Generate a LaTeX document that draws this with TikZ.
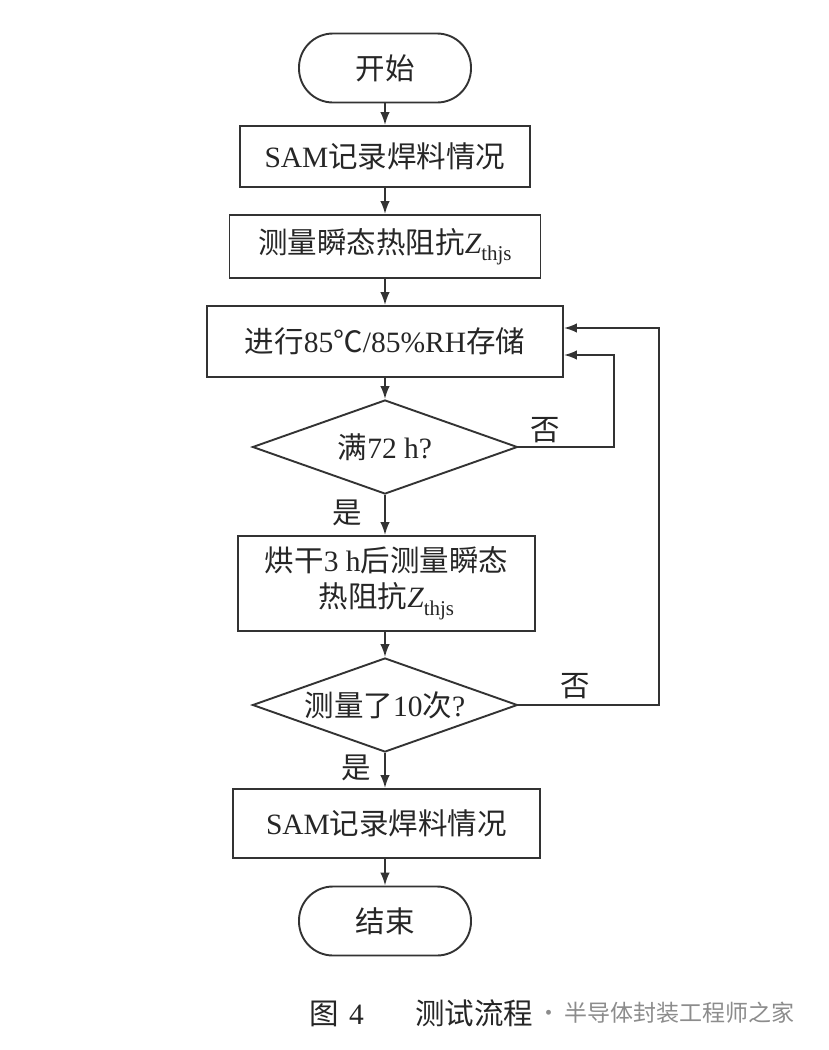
\documentclass[tikz,border=0pt]{standalone}
\usepackage{fontspec}
\setmainfont{Liberation Serif}
\newfontfamily\cjk{Noto Sans CJK SC}
\usetikzlibrary{shapes.geometric,arrows.meta}
\newcommand{\Zthjs}{{\itshape Z}\raisebox{-0.55ex}{\fontsize{21}{22}\selectfont thjs}}
\begin{document}
\begin{tikzpicture}[x=1pt,y=-1pt,
  every node/.style={font=\fontsize{29.5}{36}\selectfont, text=black!85},
  line/.style={draw=black!80, line width=1.9pt},
  arr/.style={line, -{Latex[length=13pt,width=9.5pt]}},
  term/.style={line, rectangle, rounded corners=34pt, minimum width=172pt, minimum height=69pt, inner sep=0pt},
  proc/.style={line, rectangle, inner sep=0pt, align=center},
  dec/.style={line, diamond, aspect=2.8, minimum width=265pt, minimum height=94pt, inner sep=0pt},
  lab/.style={inner sep=0pt}]
\useasboundingbox (0,0) rectangle (828,1050);
\fill[white] (0,0) rectangle (828,1050);

\node[term] (start) at (385,68) {\cjk 开始};
\node[proc, minimum width=290pt, minimum height=61pt] (b1) at (385,156.5) {SAM{\cjk 记录焊料情况}};
\node[proc, minimum width=311pt, minimum height=63pt] (b2) at (385,246.5) {{\cjk 测量瞬态热阻抗}\Zthjs};
\node[proc, minimum width=356pt, minimum height=71pt] (b3) at (385,341.5) {{\cjk 进行}85{\cjk ℃}/85\%RH{\cjk 存储}};
\node[dec] (d1) at (385,447) {{\cjk 满}72 h?};
\node[proc, minimum width=297pt, minimum height=95pt] (b4) at (386.5,583.5) {{\cjk 烘干}3 h{\cjk 后测量瞬态}\\{\cjk 热阻抗}\Zthjs};
\node[dec] (d2) at (385,705) {{\cjk 测量了}10{\cjk 次}?};
\node[proc, minimum width=307pt, minimum height=69pt] (b5) at (386.5,823.5) {SAM{\cjk 记录焊料情况}};
\node[term] (end) at (385,921) {\cjk 结束};

\draw[arr] (start) -- (b1);
\draw[arr] (b1) -- (b2);
\draw[arr] (b2) -- (b3);
\draw[arr] (b3) -- (d1);
\draw[arr] (d1.south) -- (d1.south |- b4.north);
\draw[arr] (b4.south -| d2.north) -- (d2.north);
\draw[arr] (d2.south) -- (d2.south |- b5.north);
\draw[arr] (b5.south -| end.north) -- (end.north);

\coordinate (l1) at (614,355);
\coordinate (l2) at (659,328);
\draw[arr] (d1.east) -| (l1) -- (b3.east |- l1);
\draw[arr] (d2.east) -| (l2) -- (b3.east |- l2);

\node[lab] (n1) at (545,430) {\cjk 否};
\node[lab] (n2) at (575,686) {\cjk 否};
\node[lab] (y1) at (347,513) {\cjk 是};
\node[lab] (y2) at (356,768) {\cjk 是};

\node[lab, anchor=west] (cap) at (309,1013) {{\cjk 图}\hspace{0.35em}4\hspace{1.75em}{\cjk 测试流程}};
\node[lab, anchor=west, font=\fontsize{23}{25}\selectfont\cjk, text=black!45] (wm) at (cap.east) {\,·\,半导体封装工程师之家};
\end{tikzpicture}
\end{document}
